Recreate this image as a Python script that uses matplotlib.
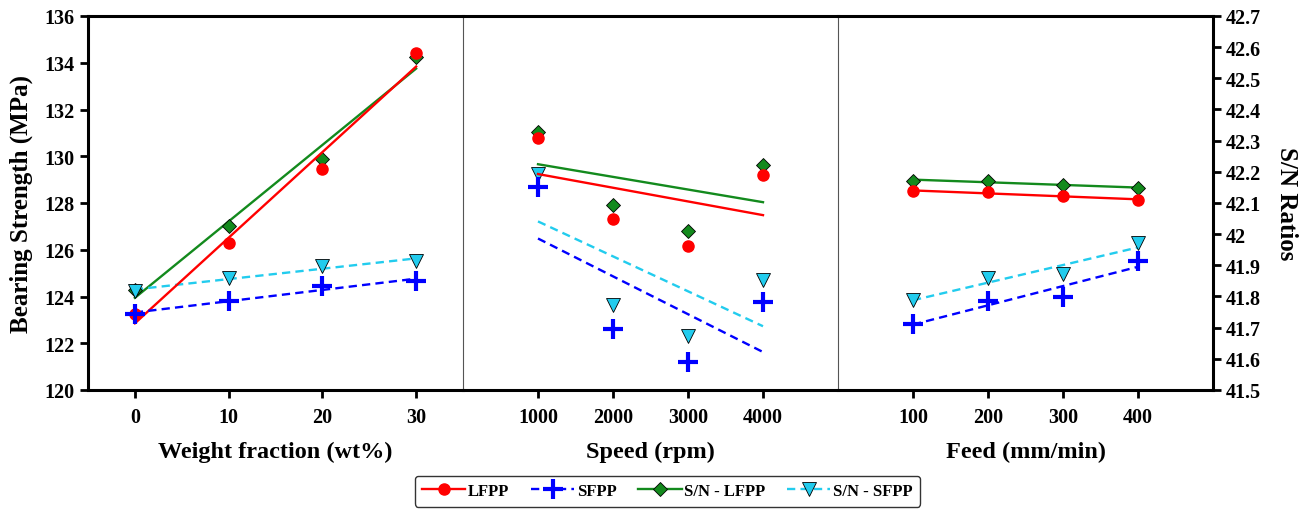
import numpy as np
import matplotlib
matplotlib.use("Agg")
import matplotlib.pyplot as plt
from matplotlib.lines import Line2D

plt.rcParams['font.family'] = ['Liberation Serif', 'DejaVu Serif']
plt.rcParams['font.weight'] = 'bold'

# factor levels for each panel
weight = [0, 10, 20, 30]
speed = [1000, 2000, 3000, 4000]
feed = [100, 200, 300, 400]

# bearing strength (MPa) - left axis
lfpp_weight = [123.25, 126.28, 129.45, 134.40]
sfpp_weight = [123.25, 123.82, 124.44, 124.65]
lfpp_speed = [130.78, 127.30, 126.15, 129.21]
sfpp_speed = [128.67, 122.61, 121.18, 123.75]
lfpp_feed = [128.50, 128.46, 128.30, 128.13]
sfpp_feed = [122.82, 123.82, 123.99, 125.51]

# S/N ratios - right axis
sn_lfpp_weight = [41.821, 42.026, 42.240, 42.567]
sn_sfpp_weight = [41.818, 41.858, 41.899, 41.915]
sn_lfpp_speed = [42.329, 42.093, 42.011, 42.221]
sn_sfpp_speed = [42.193, 41.773, 41.672, 41.853]
sn_lfpp_feed = [42.172, 42.171, 42.158, 42.148]
sn_sfpp_feed = [41.789, 41.858, 41.871, 41.973]

panels = [
    (weight, lfpp_weight, sfpp_weight, sn_lfpp_weight, sn_sfpp_weight, (-5, 35), 'Weight fraction (wt%)'),
    (speed, lfpp_speed, sfpp_speed, sn_lfpp_speed, sn_sfpp_speed, (0, 5000), 'Speed (rpm)'),
    (feed, lfpp_feed, sfpp_feed, sn_lfpp_feed, sn_sfpp_feed, (0, 500), 'Feed (mm/min)'),
]

RED, BLUE, GREEN, CYAN = '#ff0000', '#0000ff', '#138a1d', '#22ccee'
DASH = (0, (3.5, 2.2))

fig = plt.figure(figsize=(13.11, 5.10), dpi=100)
left, right, bottom, top = 88 / 1311, 1213 / 1311, 1 - 391 / 510, 1 - 17 / 510
w = (right - left) / 3
axes = []


def trend(ax, x, y, color, ls):
    k, b = np.polyfit(x, y, 1)
    xs = np.array([x[0], x[-1]])
    ax.plot(xs, k * xs + b, color=color, ls=ls, lw=1.7, zorder=2)


for i, (x, lf, sf, snl, sns_, xlim, xlabel) in enumerate(panels):
    ax = fig.add_axes([left + i * w, bottom, w, top - bottom])
    tw = ax.twinx()
    axes.append(ax)

    # right axis (S/N) series
    trend(tw, x, snl, GREEN, '-')
    trend(tw, x, sns_, CYAN, DASH)
    tw.plot(x, snl, ls='none', marker='D', ms=7, mfc=GREEN, mec='black', mew=0.6, zorder=3)
    tw.plot(x, sns_, ls='none', marker='v', ms=10, mfc=CYAN, mec='black', mew=0.6, zorder=4)
    # left axis (strength) series
    trend(ax, x, lf, RED, '-')
    trend(ax, x, sf, BLUE, DASH)
    ax.plot(x, lf, ls='none', marker='o', ms=8, color=RED, zorder=3)
    ax.plot(x, sf, ls='none', marker='+', ms=14, mew=3, color=BLUE, zorder=4)

    ax.set_zorder(tw.get_zorder() + 1)
    ax.patch.set_visible(False)

    ax.set_xlim(*xlim)
    ax.set_xticks(x)
    ax.set_ylim(120, 136)
    tw.set_ylim(41.5, 42.7)
    ax.set_xlabel(xlabel, fontsize=17.5, fontweight='bold', labelpad=10)
    ax.tick_params(axis='x', direction='out', length=6, width=2, labelsize=14.5, pad=6)

    for s in ['top', 'bottom', 'left', 'right']:
        ax.spines[s].set_linewidth(2.2)
        tw.spines[s].set_visible(False)
    ax.spines['right'].set_visible(False)

    if i == 0:
        ax.set_yticks(np.arange(120, 137, 2))
        ax.tick_params(axis='y', direction='out', length=6, width=2, labelsize=14.5)
        ax.set_ylabel('Bearing Strength (MPa)', fontsize=18, fontweight='bold', labelpad=8)
    else:
        ax.tick_params(axis='y', left=False, labelleft=False)
        ax.spines['left'].set_linewidth(0.8)
        ax.spines['left'].set_color('#555555')

    if i == 2:
        tw.spines['right'].set_visible(True)
        tw.spines['right'].set_linewidth(2.2)
        ticks = np.round(np.arange(41.5, 42.71, 0.1), 1)
        tw.set_yticks(ticks)
        tw.set_yticklabels(['42' if t == 42.0 else f'{t:.1f}' for t in ticks])
        tw.tick_params(axis='y', direction='out', length=6, width=2, labelsize=14.5)
        tw.set_ylabel('S/N Ratios', fontsize=18, fontweight='bold', rotation=270, labelpad=26)
    else:
        tw.tick_params(axis='y', right=False, labelright=False)

handles = [
    Line2D([], [], color=RED, lw=1.7, marker='o', ms=8),
    Line2D([], [], color=BLUE, lw=1.7, ls=DASH, marker='+', ms=14, mew=3),
    Line2D([], [], color=GREEN, lw=1.7, marker='D', ms=7, mfc=GREEN, mec='black', mew=0.6),
    Line2D([], [], color=CYAN, lw=1.7, ls=DASH, marker='v', ms=10, mfc=CYAN, mec='black', mew=0.6),
]
labels = ['LFPP', 'SFPP', 'S/N - LFPP', 'S/N - SFPP']
leg = fig.legend(handles, labels, loc='lower center', bbox_to_anchor=(0.509, 0.0), ncol=4,
                 prop={'size': 12, 'weight': 'bold'}, frameon=True, fancybox=True,
                 handlelength=2.6, columnspacing=1.3, handletextpad=0.15, borderpad=0.45,
                 borderaxespad=0.15)
leg.get_frame().set_edgecolor('black')
leg.get_frame().set_linewidth(1.0)

fig.savefig('out.png', dpi=100)
